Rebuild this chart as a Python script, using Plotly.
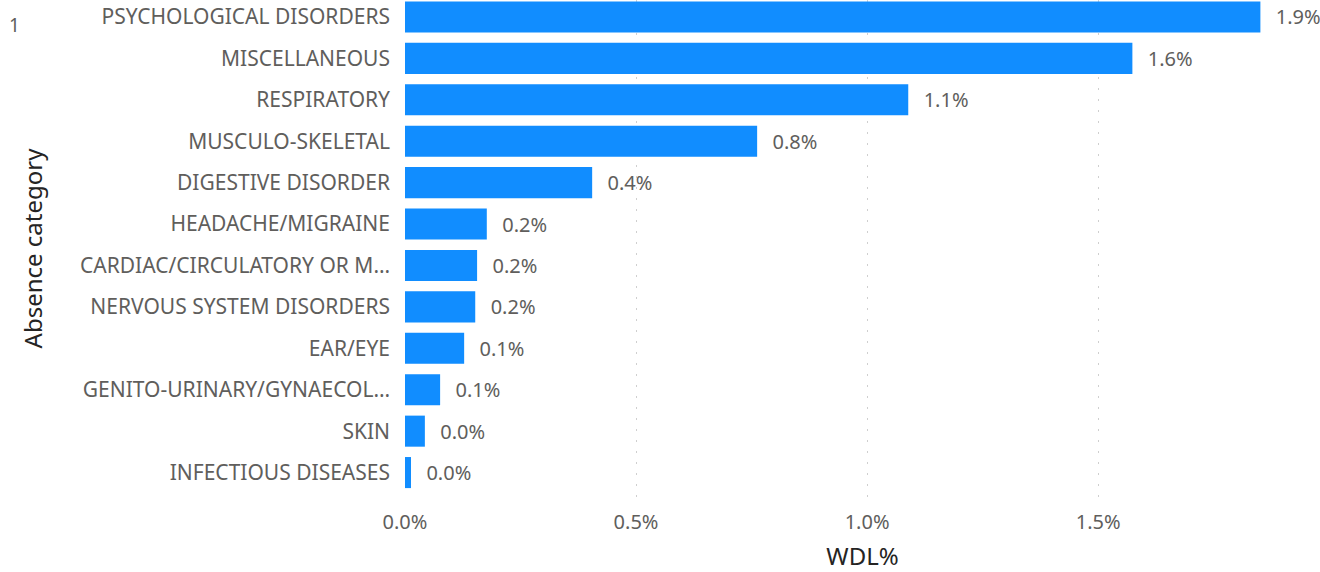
import plotly.graph_objects as go

categories = ['PSYCHOLOGICAL DISORDERS', 'MISCELLANEOUS', 'RESPIRATORY', 'MUSCULO-SKELETAL',
              'DIGESTIVE DISORDER', 'HEADACHE/MIGRAINE', 'CARDIAC/CIRCULATORY OR M…',
              'NERVOUS SYSTEM DISORDERS', 'EAR/EYE', 'GENITO-URINARY/GYNAECOL…',
              'SKIN', 'INFECTIOUS DISEASES']
wdl = [0.01851, 0.01574, 0.01089, 0.00762, 0.00405, 0.00177, 0.00156,
       0.00152, 0.00128, 0.00076, 0.00043, 0.00013]
x_ticks = [0, 0.005, 0.01, 0.015]

fig = go.Figure()

fig.add_trace(go.Bar(
    y = categories,
    x = wdl,
    orientation = 'h',
    marker = dict(color = '#118DFF', line = dict(width = 0)),
    texttemplate = '\u00a0\u00a0\u200a%{x:.1%}',
    textposition = 'outside',
    textfont = dict(color = '#605E5C', size = 20),
    cliponaxis = False,
    hoverinfo = 'x+y',
))

fig.update_layout(
    width = 1320, height = 572,
    margin = dict(l = 405, r = 0, t = 0, b = 75, autoexpand = False),
    paper_bgcolor = 'white',
    plot_bgcolor = 'white',
    font = dict(family = 'Noto Sans, Open Sans, sans-serif', color = '#605E5C', size = 21),
    bargap = 0.25,
    showlegend = False,
    xaxis = dict(
        range = [0, 0.0198],
        tickvals = x_ticks,
        tickformat = '.1%',
        tickfont = dict(size = 20),
        ticklabelstandoff = 11,
        showgrid = True,
        gridcolor = '#CFCFCF',
        griddash = '2px,9px',
        gridwidth = 1,
        zeroline = False,
        showline = False,
        automargin = False,
        title = dict(text = 'WDL%', font = dict(size = 24, color = '#252423'), standoff = 16),
    ),
    yaxis = dict(
        categoryorder = 'array',
        categoryarray = categories,
        range = [11.59, -0.41],
        showgrid = False,
        zeroline = False,
        showline = False,
        automargin = False,
        ticklabelstandoff = 14,
        title = dict(text = 'Absence category', font = dict(size = 24, color = '#252423'), standoff = 30),
    ),
)

fig.add_annotation(text = '1', x = (14 - 405) / 915, y = 1 - 25 / 497, xref = 'paper', yref = 'paper',
                   xanchor = 'center', yanchor = 'middle',
                   showarrow = False, font = dict(size = 19, color = '#605E5C'))

# drop the default 8px page margin so the 1320x572 figure fills the window
fig.write_html("out.html", config = {'displayModeBar': False},
               post_script = "document.body.style.margin = '0';")
